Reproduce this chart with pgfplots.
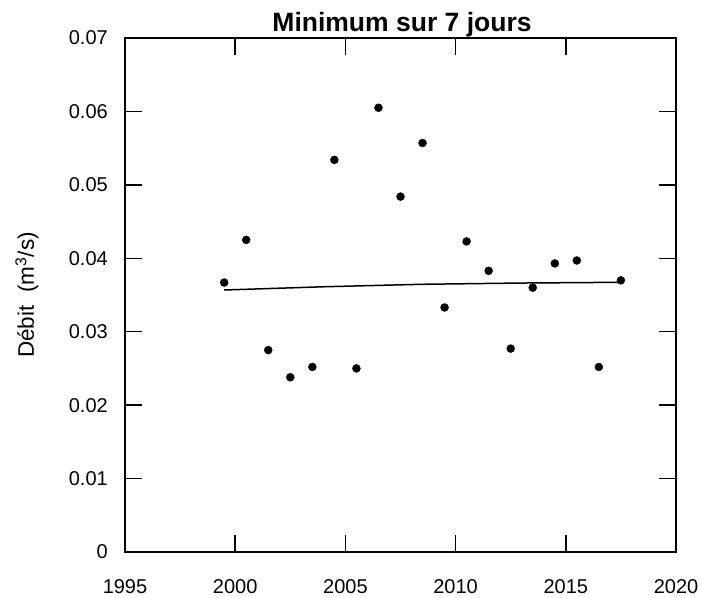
\documentclass[border=0pt]{standalone}
\usepackage{pgfplots}
\pgfplotsset{compat=1.18}
\usepackage{fontspec}
\setmainfont{Liberation Sans}
\begin{document}
\begin{tikzpicture}
\begin{axis}[
  at={(0,0)}, anchor=south west,
  scale only axis, width=551bp, height=514bp,
  xmin=1995, xmax=2020, ymin=0, ymax=0.07,
  scaled y ticks=false, scaled x ticks=false,
  xtick={1995,2000,2005,2010,2015,2020},
  ytick={0,0.01,0.02,0.03,0.04,0.05,0.06,0.07},
  yticklabels={0,0.01,0.02,0.03,0.04,0.05,0.06,0.07},
  xticklabels={1995,2000,2005,2010,2015,2020},
  tick align=inside,
  xtick pos=both, ytick pos=both,
  axis line style={line width=2bp},
  tick style={line width=1.5bp, black},
  major tick length=17bp,
  tick label style={font=\fontsize{20bp}{24bp}\selectfont},
  xticklabel style={inner sep=0pt, anchor=north, yshift=-27bp},
  yticklabel style={inner sep=0pt, anchor=east, xshift=-17bp},
  ylabel={Débit\ \ (m\textsuperscript{3}/s)},
  ylabel style={at={(axis description cs:-0.178,0.5)}, anchor=center, font=\fontsize{22.5bp}{26bp}\selectfont},
  clip=false,
]
\addplot[only marks, mark=*, mark size=4bp, mark options={fill=black, draw=black}] coordinates {
(1999.5,0.0367) (2000.5,0.0425) (2001.5,0.0275) (2002.5,0.0238) (2003.5,0.0252)
(2004.5,0.0534) (2005.5,0.0250) (2006.5,0.0605) (2007.5,0.0484) (2008.5,0.0557)
(2009.5,0.0333) (2010.5,0.0423) (2011.5,0.0383) (2012.5,0.0277) (2013.5,0.0360)
(2014.5,0.0393) (2015.5,0.0397) (2016.5,0.0252) (2017.5,0.0370)
};
\addplot[black, line width=1.5bp] coordinates {
(1999.5,0.03568) (2004,0.03612) (2008.5,0.03646) (2013,0.03663) (2017.5,0.03673)
};
\end{axis}
\node[anchor=base, font=\bfseries\fontsize{26.5bp}{30bp}\selectfont] at (277bp,520bp) {Minimum sur 7 jours};
\pgfresetboundingbox
\path (-125bp,-46bp) rectangle (577bp,552bp);
\end{tikzpicture}
\end{document}
